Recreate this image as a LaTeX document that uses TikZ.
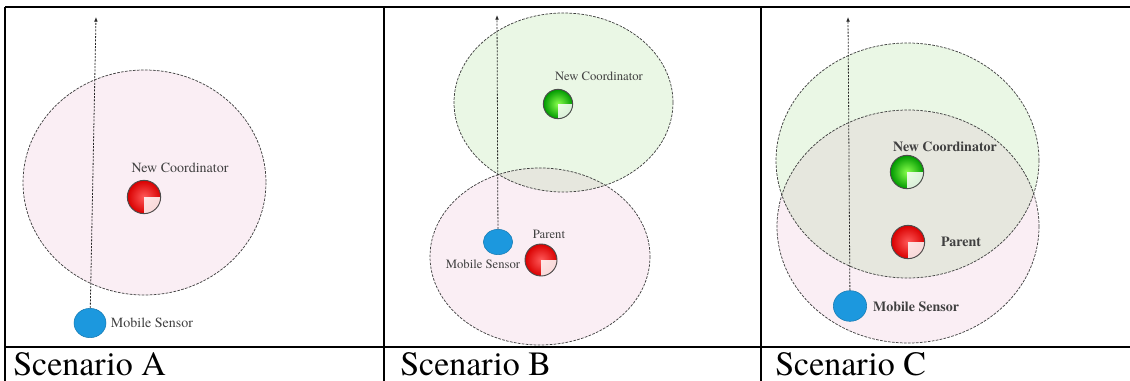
\documentclass[tikz,border=0pt]{standalone}
\usepackage{fontspec}
\setmainfont{texgyretermes}[Extension=.otf, UprightFont=*-regular, BoldFont=*-bold, ItalicFont=*-italic, BoldItalicFont=*-bolditalic]
\usetikzlibrary{arrows.meta,shapes.geometric}

\definecolor{rangepink}{HTML}{FAEEF4}
\definecolor{rangegreen}{HTML}{EAF7E5}
\definecolor{rangeboth}{HTML}{E6E7DE}
\definecolor{sensorblue}{HTML}{1C98DE}

\tikzset{
  tablerule/.style={line width=1.5pt},
  radiorange/.style={draw=black!75, line width=0.55pt, dash pattern=on 2pt off 1pt},
  track/.style={draw=black!85, line width=0.6pt, dash pattern=on 1.5pt off 1pt, -{Latex[length=3.5pt,width=2.8pt]}},
  device/.style={circle, draw=black!70, line width=0.7pt, inner sep=0pt, minimum size=24pt,
    path picture={\fill[white,opacity=0.85] (path picture bounding box.center) rectangle (path picture bounding box.south east);}},
  coordred/.style={device, inner color=red!65, outer color=red!85!black},
  coordgreen/.style={device, inner color=green!55!lime!70, outer color=green!60!black},
  sensor/.style={ellipse, draw=sensorblue!80!black, line width=0.4pt, fill=sensorblue, inner sep=0pt, minimum width=24pt, minimum height=22pt},
  devtag/.style={text=black!75, inner sep=0pt},
  scencap/.style={anchor=base west, inner sep=0pt, font=\fontsize{25.5pt}{30pt}\selectfont}
}

\begin{document}
\begin{tikzpicture}[x=0.75pt,y=-0.75pt]
\useasboundingbox (0,0) rectangle (1130,381);

% Scenario A
\fill[rangepink] (144.5,182.5) ellipse (121.5 and 112.5);
\draw[radiorange] (144.5,182.5) ellipse (121.5 and 112.5);
\node[coordred, minimum size=25pt] (parA) at (144,197) {};
\node[devtag, font=\fontsize{10.5pt}{12pt}\selectfont] (parAlbl) at (180,168) {New Coordinator};
\node[sensor] (msA) at (90,323) {};
\node[devtag, font=\fontsize{10.5pt}{12pt}\selectfont] (msAlbl) at (152,323) {Mobile Sensor};
\coordinate (topA) at (96,17);
\path[track] (msA) -- (topA);

% Scenario B
\fill[rangepink] (540,256.5) ellipse (110 and 88.5);
\fill[rangegreen] (563.5,102.5) ellipse (109.5 and 89.5);
\begin{scope}
\clip (540,256.5) ellipse (110 and 88.5);
\fill[rangeboth] (563.5,102.5) ellipse (109.5 and 89.5);
\end{scope}
\draw[radiorange] (540,256.5) ellipse (110 and 88.5);
\draw[radiorange] (563.5,102.5) ellipse (109.5 and 89.5);
\node[coordgreen, minimum size=22pt] (ncB) at (558,104) {};
\node[devtag, font=\fontsize{9.5pt}{11pt}\selectfont] (ncBlbl) at (599,76) {New Coordinator};
\node[coordred, minimum size=24pt] (parB) at (541,260) {};
\node[devtag, font=\fontsize{9.5pt}{11pt}\selectfont] (parBlbl) at (549,234) {Parent};
\node[sensor, minimum width=22pt, minimum height=19pt] (msB) at (498,242) {};
\node[devtag, font=\fontsize{9.5pt}{11pt}\selectfont] (msBlbl) at (483,264) {Mobile Sensor};
\coordinate (topB) at (497,15);
\path[track] (msB) -- (topB);

% Scenario C
\fill[rangepink] (908,226.5) ellipse (131 and 116.5);
\fill[rangegreen] (907.5,160.5) ellipse (131.5 and 117.5);
\begin{scope}
\clip (908,226.5) ellipse (131 and 116.5);
\fill[rangeboth] (907.5,160.5) ellipse (131.5 and 117.5);
\end{scope}
\draw[radiorange] (908,226.5) ellipse (131 and 116.5);
\draw[radiorange] (907.5,160.5) ellipse (131.5 and 117.5);
\node[coordgreen, minimum size=25pt] (ncC) at (907,172) {};
\node[devtag, font=\bfseries\fontsize{10.5pt}{12pt}\selectfont] (ncClbl) at (945,147) {New Coordinator};
\node[coordred, minimum size=25pt] (parC) at (908,242) {};
\node[devtag, font=\bfseries\fontsize{10.5pt}{12pt}\selectfont] (parClbl) at (961,242) {Parent};
\node[sensor, minimum width=25pt, minimum height=23pt] (msC) at (850,306) {};
\node[devtag, font=\bfseries\fontsize{10.5pt}{12pt}\selectfont] (msClbl) at (916,307) {Mobile Sensor};
\coordinate (topC) at (848,17);
\path[track] (msC) -- (topC);

% table rules
\draw[tablerule] (5,7) -- (1130,7);
\draw[tablerule] (5,347) -- (1130,347);
\draw[tablerule] (5,7) -- (5,381);
\draw[tablerule] (384,7) -- (384,381);
\draw[tablerule] (761,7) -- (761,381);

% captions
\node[scencap] (capA) at (13,375) {Scenario A};
\node[scencap] (capB) at (400,375) {Scenario B};
\node[scencap] (capC) at (775,375) {Scenario C};
\end{tikzpicture}
\end{document}
